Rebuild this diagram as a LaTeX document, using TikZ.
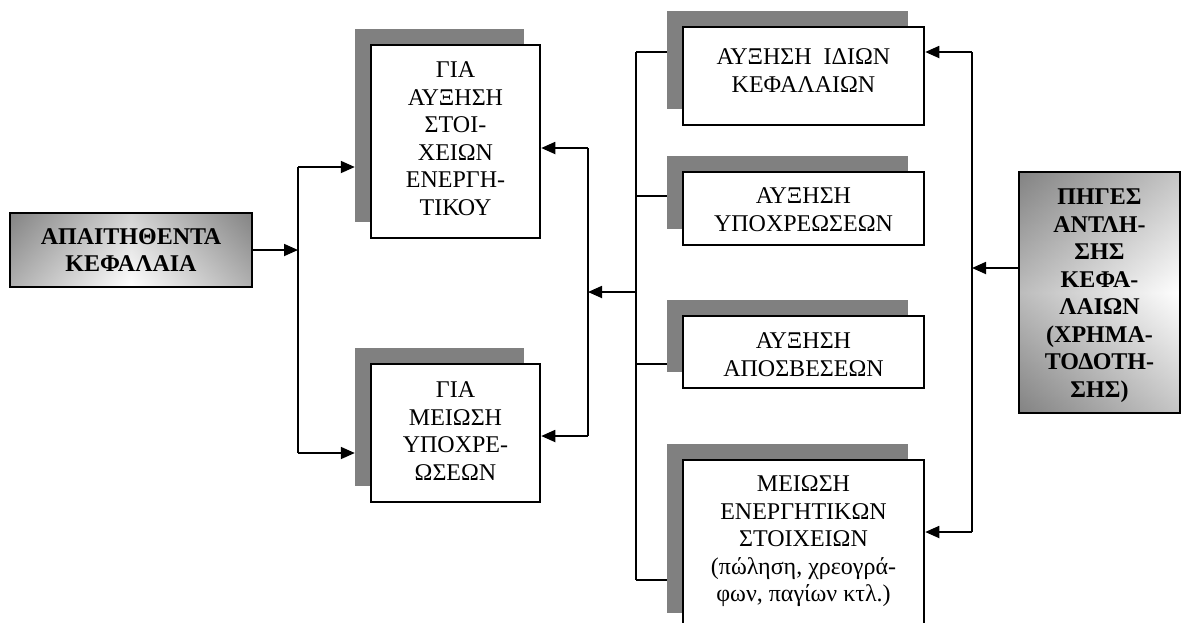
\documentclass[tikz,border=0pt]{standalone}
\usepackage{fontspec}
\setmainfont{Liberation Serif}
\usetikzlibrary{arrows.meta}
\definecolor{shadowgray}{HTML}{808080}
\tikzset{
  box/.style={draw=black, line width=2.5pt, fill=white, inner sep=0pt},
  shadowbox/.style={fill=shadowgray, draw=none, inner sep=0pt},
  txt/.style={font=\fontsize{24}{27.5}\selectfont, align=center, inner sep=0pt, anchor=north},
  btxt/.style={font=\fontsize{24}{27.5}\selectfont\bfseries, align=center, inner sep=0pt},
  conn/.style={line width=1.8pt},
  thinconn/.style={line width=1.3pt},
  arr/.style={conn, -{Triangle[length=14pt,width=12pt]}},
}
\begin{document}
\begin{tikzpicture}[x=1pt, y=-1pt]
\clip (0,0) rectangle (1183,622);
\fill[white] (0,0) rectangle (1183,622);

% left gradient box
\node[draw=black, line width=2.5pt, inner sep=0pt, minimum width=242pt, minimum height=74pt,
  left color=gray!95, right color=gray!95, middle color=white,
  path picture={\shade[top color=gray, bottom color=white, opacity=0.35]
    (path picture bounding box.south west) rectangle (path picture bounding box.north east);}]
  (L) at (131,250) {};
\node[btxt] (Lt) at (L.center) {ΑΠΑΙΤΗΘΕΝΤΑ\\ΚΕΦΑΛΑΙΑ};

% middle boxes
\node[shadowbox, minimum width=169pt, minimum height=193pt] (As) at (439.5,125.5) {};
\node[box, minimum width=169pt, minimum height=193pt] (A) at (455.5,141.5) {};
\node[txt] (At) at ([yshift=-18pt]A.north) {ΓΙΑ\\ΑΥΞΗΣΗ\\ΣΤΟΙ-\\ΧΕΙΩΝ\\ΕΝΕΡΓΗ-\\ΤΙΚΟΥ};

\node[shadowbox, minimum width=169pt, minimum height=138pt] (Bs) at (439.5,417) {};
\node[box, minimum width=169pt, minimum height=138pt] (B) at (455.5,433) {};
\node[txt] (Bt) at ([yshift=-19pt]B.north) {ΓΙΑ\\ΜΕΙΩΣΗ\\ΥΠΟΧΡΕ-\\ΩΣΕΩΝ};

% right column boxes
\node[shadowbox, minimum width=241pt, minimum height=98pt] (C1s) at (787.5,60) {};
\node[box, minimum width=241pt, minimum height=98pt] (C1) at (803.5,76) {};
\node[txt] (C1t) at ([yshift=-23pt]C1.north) {ΑΥΞΗΣΗ\ \ ΙΔΙΩΝ\\ΚΕΦΑΛΑΙΩΝ};

\node[shadowbox, minimum width=241pt, minimum height=73pt] (C2s) at (787.5,192.5) {};
\node[box, minimum width=241pt, minimum height=73pt] (C2) at (803.5,208.5) {};
\node[txt] (C2t) at ([yshift=-17pt]C2.north) {ΑΥΞΗΣΗ\\ΥΠΟΧΡΕΩΣΕΩΝ};

\node[shadowbox, minimum width=241pt, minimum height=72pt] (C3s) at (787.5,336) {};
\node[box, minimum width=241pt, minimum height=72pt] (C3) at (803.5,352) {};
\node[txt] (C3t) at ([yshift=-18pt]C3.north) {ΑΥΞΗΣΗ\\ΑΠΟΣΒΕΣΕΩΝ};

\node[shadowbox, minimum width=241pt, minimum height=169pt] (C4s) at (787.5,528.5) {};
\node[box, minimum width=241pt, minimum height=169pt] (C4) at (803.5,544.5) {};
\node[txt] (C4t) at ([yshift=-17pt]C4.north) {ΜΕΙΩΣΗ\\ΕΝΕΡΓΗΤΙΚΩΝ\\ΣΤΟΙΧΕΙΩΝ\\(πώληση, χρεογρά-\\φων, παγίων κτλ.)};

% right gradient box
\node[draw=black, line width=2.5pt, inner sep=0pt, minimum width=161pt, minimum height=241pt,
  left color=gray!95, right color=white,
  path picture={\shade[top color=gray, bottom color=gray, middle color=white, opacity=0.45]
    (path picture bounding box.south west) rectangle (path picture bounding box.north east);}]
  (P) at (1099.5,292.5) {};
\node[btxt, anchor=north] (Pt) at ([yshift=-18pt]P.north) {ΠΗΓΕΣ\\ΑΝΤΛΗ-\\ΣΗΣ\\ΚΕΦΑ-\\ΛΑΙΩΝ\\(ΧΡΗΜΑ-\\ΤΟΔΟΤΗ-\\ΣΗΣ)};

% junction coordinates
\coordinate (J0) at (298,250);
\coordinate (Jt) at (298,167);
\coordinate (Jb) at (298,453);
\coordinate (K1) at (588,148);
\coordinate (K2) at (588,436);
\coordinate (K3) at (588,292);
\coordinate (M0) at (636,292);
\coordinate (M1) at (636,52);
\coordinate (M2) at (636,196);
\coordinate (M3) at (636,364);
\coordinate (M4) at (636,580);
\coordinate (R1) at (972,52);
\coordinate (R3) at (972,268);
\coordinate (R4) at (972,532);

% left connectors
\draw[arr] (L.east |- J0) -- (J0);
\draw[conn] (Jt) -- (Jb);
\draw[arr] (Jt) -- (As.west |- Jt);
\draw[arr] (Jb) -- (Bs.west |- Jb);

% middle connectors
\draw[conn] (K1) -- (K2);
\draw[arr] (K1) -- (A.east |- K1);
\draw[arr] (K2) -- (B.east |- K2);
\draw[arr] (M0) -- (K3);

\draw[thinconn] (M1) -- (M4);
\draw[thinconn] (M1) -- (C1s.west |- M1);
\draw[thinconn] (M2) -- (C2s.west |- M2);
\draw[thinconn] (M3) -- (C3s.west |- M3);
\draw[thinconn] (M4) -- (C4s.west |- M4);

% right connectors
\draw[conn] (R1) -- (R4);
\draw[arr] (R1) -- (C1.east |- R1);
\draw[arr] (R4) -- (C4.east |- R4);
\draw[arr] (P.west |- R3) -- (R3);
\end{tikzpicture}
\end{document}
